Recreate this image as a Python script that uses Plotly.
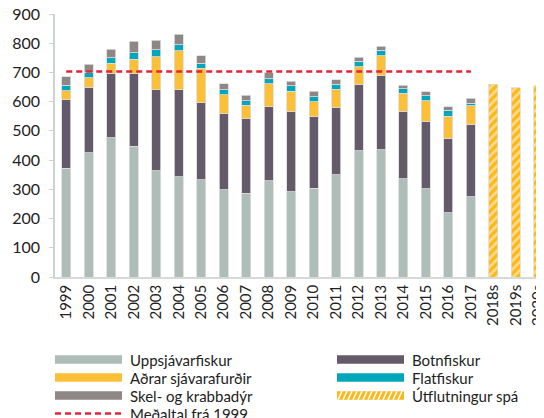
import plotly.graph_objects as go

years = ['1999', '2000', '2001', '2002', '2003', '2004', '2005', '2006', '2007', '2008',
         '2009', '2010', '2011', '2012', '2013', '2014', '2015', '2016', '2017']
forecast_years = ['2018s', '2019s', '2020s']

uppsjavarfiskur = [373, 425, 477, 448, 363, 343, 333, 298, 287, 329, 291, 304, 350, 432, 436, 337, 302, 220, 275]
botnfiskur = [233, 225, 218, 247, 278, 298, 263, 260, 255, 253, 275, 244, 230, 226, 252, 230, 229, 255, 246]
adrar = [32, 32, 37, 50, 113, 133, 119, 66, 46, 79, 69, 51, 63, 62, 69, 62, 73, 75, 65]
flatfiskur = [19, 18, 19, 23, 23, 20, 17, 17, 16, 17, 20, 17, 16, 18, 19, 16, 17, 20, 9]
skel = [29, 28, 29, 38, 34, 37, 25, 21, 18, 21, 15, 19, 16, 14, 13, 12, 13, 12, 16]
spa = [659, 647, 654]
medaltal = 703

FONT = 'Lato'
YELLOW = '#fbb818'
RED = '#e32537'
bar_line = dict(color='#dcdcdc', width=0.8)

series = [
    ('Uppsjávarfiskur', uppsjavarfiskur, '#aebdb7'),
    ('Botnfiskur', botnfiskur, '#655a6a'),
    ('Aðrar sjávarafurðir', adrar, '#fbbf38'),
    ('Flatfiskur', flatfiskur, '#00a6ba'),
    ('Skel- og krabbadýr', skel, '#8f8686'),
]

fig = go.Figure()
for name, vals, col in series:
    fig.add_trace(go.Bar(x=years, y=vals, name=name, marker=dict(color=col, line=bar_line)))

fig.add_trace(go.Bar(x=forecast_years, y=spa, name='Útflutningur spá',
                     marker=dict(color=YELLOW, line=bar_line,
                                 pattern=dict(shape='/', fgcolor='white', bgcolor=YELLOW,
                                              size=6, solidity=0.45))))

fig.add_trace(go.Scatter(x=years, y=[medaltal] * len(years), mode='lines', name='Meðaltal frá 1999',
                         line=dict(color=RED, width=2.5, dash='6px,4px')))

# page is drawn with an 8px body margin, so the figure is 8px smaller
W, H = 536, 410
L, R, T, B = 47, 0, 6, 141
PW, PH = W - L - R, H - T - B


def px(x):  # page pixel -> paper x
    return (x - 8 - L) / PW


def py(y):  # page pixel -> paper y
    return (H - B + 8 - y) / PH


# hand-made legend (two columns, tight rows)
legend_items = [
    ('Uppsjávarfiskur', '#aebdb7', 0, 0), ('Botnfiskur', '#655a6a', 1, 0),
    ('Aðrar sjávarafurðir', '#fbbf38', 0, 1), ('Flatfiskur', '#00a6ba', 1, 1),
    ('Skel- og krabbadýr', '#8f8686', 0, 2), ('Útflutningur spá', 'hatch', 1, 2),
    ('Meðaltal frá 1999', 'dash', 0, 3),
]
col_x = [55, 337]
row_y = [359.5, 377.5, 395.5, 413.5]
sw_w, sw_h = 67, 8.5
shapes, annots = [], []
for text, kind, c, r in legend_items:
    x0, yc = col_x[c], row_y[r]
    x1 = x0 + sw_w
    if kind == 'dash':
        shapes.append(dict(type='line', xref='paper', yref='paper', x0=px(x0), x1=px(x1),
                           y0=py(yc), y1=py(yc), line=dict(color=RED, width=2.5, dash='6px,4px')))
    elif kind == 'hatch':
        shapes.append(dict(type='rect', xref='paper', yref='paper', x0=px(x0), x1=px(x1),
                           y0=py(yc + sw_h / 2), y1=py(yc - sw_h / 2),
                           fillcolor=YELLOW, line=dict(width=0)))
        xs = x0 + 1
        while xs + 4 <= x1:
            shapes.append(dict(type='line', xref='paper', yref='paper', x0=px(xs), x1=px(xs + 4),
                               y0=py(yc + sw_h / 2), y1=py(yc - sw_h / 2),
                               line=dict(color='white', width=1.6)))
            xs += 5
    else:
        shapes.append(dict(type='rect', xref='paper', yref='paper', x0=px(x0), x1=px(x1),
                           y0=py(yc + sw_h / 2), y1=py(yc - sw_h / 2),
                           fillcolor=kind, line=dict(width=0)))
    annots.append(dict(text=text, xref='paper', yref='paper', x=px(x1 + 6), y=py(yc),
                       xanchor='left', yanchor='middle', showarrow=False,
                       font=dict(size=15, color='#222222', family=FONT)))

fig.update_layout(
    barmode='stack',
    bargap=0.6,
    showlegend=False,
    width=W, height=H,
    margin=dict(l=L, r=R, t=T, b=B, autoexpand=False),
    plot_bgcolor='white', paper_bgcolor='white',
    font=dict(family=FONT, color='#222222', size=15),
    shapes=shapes,
    annotations=annots,
    xaxis=dict(categoryorder='array', categoryarray=years + forecast_years,
               range=[-0.5, 21.25], tickangle=-90, showline=True, linecolor='#d5dad8',
               linewidth=1.5, ticks='', tickfont=dict(size=15), automargin=False,
               ticklabeloverflow='allow'),
    yaxis=dict(range=[0, 900], dtick=100, showgrid=False, zeroline=False, showline=True,
               linecolor='#c9d3cf', linewidth=1.5, ticks='outside', ticklen=4,
               tickcolor='#c9d3cf', tickfont=dict(size=16), automargin=False,
               ticklabeloverflow='allow', ticklabelstandoff=6),
)

fig.write_html('out.html')
